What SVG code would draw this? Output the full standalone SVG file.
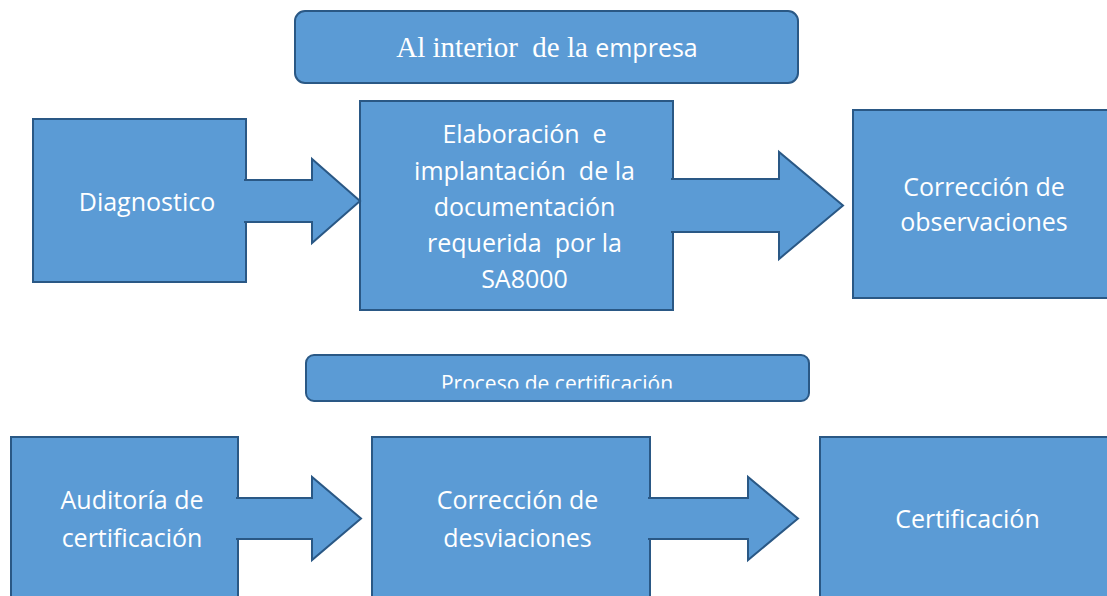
<svg xmlns="http://www.w3.org/2000/svg" width="1107" height="596" viewBox="0 0 1107 596">
<style>
.box{fill:#5B9BD5;stroke:#2A5885;stroke-width:2}
.arrow{fill:#5B9BD5;stroke:#2A5885;stroke-width:2;stroke-linejoin:miter}
.t{font-family:"Open Sans","Noto Sans",sans-serif;font-size:25px;fill:#FFFFFF;text-anchor:middle;white-space:pre}
.serif{font-family:"Liberation Serif","Times New Roman",serif;font-size:29px}
.small{font-size:21px}
</style>
<defs>
<clipPath id="clipBanner2"><rect x="300" y="350" width="520" height="38.5"/></clipPath>
</defs>
<rect width="1107" height="596" fill="#FFFFFF"/>
<g id="banner-interior">
<rect class="box" x="295" y="11" width="503" height="72" rx="10"/>
<text class="t" x="547" y="57"><tspan class="serif">Al interior  de la </tspan><tspan>empresa</tspan></text>
</g>
<g id="node-diagnostico">
<rect class="box" x="33" y="119" width="213" height="163"/>
<text class="t" x="147" y="211">Diagnostico</text>
</g>
<g id="node-elaboracion">
<rect class="box" x="360" y="101" width="313" height="209"/>
<text class="t" x="524.5" y="143">Elaboración  e</text>
<text class="t" x="524.5" y="180">implantación  de la</text>
<text class="t" x="524.5" y="216">documentación</text>
<text class="t" x="524.5" y="252">requerida  por la</text>
<text class="t" x="524.5" y="288">SA8000</text>
</g>
<g id="node-correccion-observaciones">
<rect class="box" x="853" y="110" width="262" height="188"/>
<text class="t" x="984" y="196">Corrección de</text>
<text class="t" x="984" y="231">observaciones</text>
</g>
<g id="banner-proceso">
<rect class="box" x="306" y="355" width="503" height="46" rx="8"/>
<text class="t small" x="557" y="391" clip-path="url(#clipBanner2)">Proceso de certificación</text>
</g>
<g id="node-auditoria">
<rect class="box" x="11" y="437" width="227" height="175"/>
<text class="t" x="132" y="509">Auditoría de</text>
<text class="t" x="132" y="547">certificación</text>
</g>
<g id="node-correccion-desviaciones">
<rect class="box" x="372" y="437" width="278" height="175"/>
<text class="t" x="517.5" y="509">Corrección de</text>
<text class="t" x="517.5" y="547">desviaciones</text>
</g>
<g id="node-certificacion">
<rect class="box" x="820" y="437" width="300" height="175"/>
<text class="t" x="967.5" y="528">Certificación</text>
</g>
<g id="connectors">
<path class="arrow" d="M244,180 L312,180 L312,159 L360,201 L312,243 L312,222 L244,222"/>
<path class="arrow" d="M671,179 L779,179 L779,152 L843,205.5 L779,259 L779,232 L671,232"/>
<path class="arrow" d="M236,498 L312,498 L312,477 L361,518.5 L312,560 L312,539 L236,539"/>
<path class="arrow" d="M648,498 L748,498 L748,477 L798,518.5 L748,560 L748,539 L648,539"/>
</g>
</svg>
